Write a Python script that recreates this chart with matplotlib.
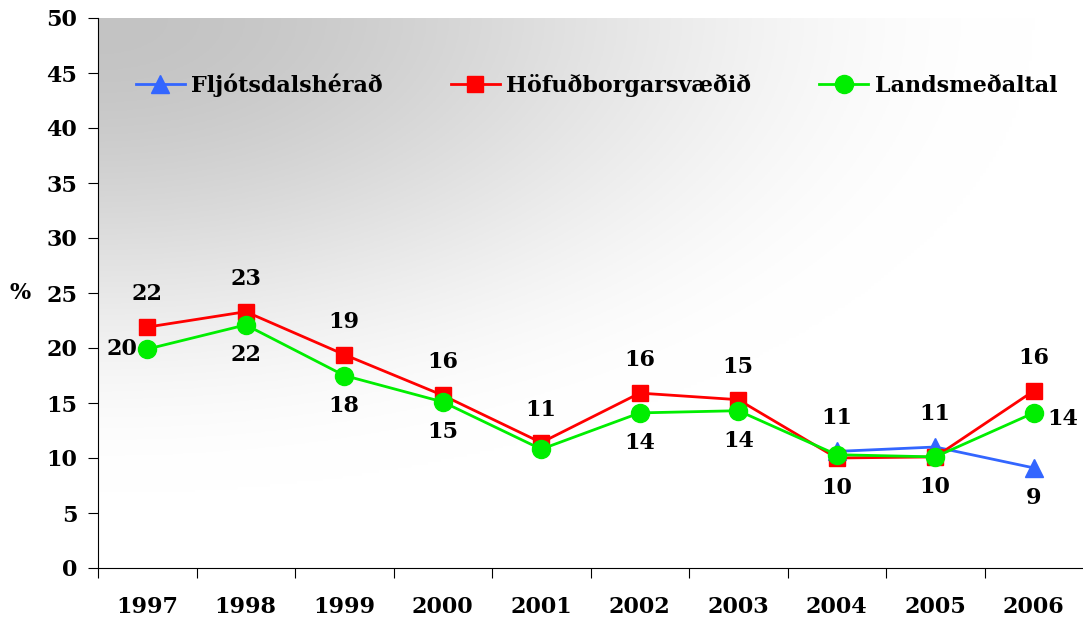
import numpy as np
import matplotlib
matplotlib.use("Agg")
import matplotlib.pyplot as plt

plt.rcParams['font.family'] = ['DejaVu Serif']
plt.rcParams['font.weight'] = 'bold'

# data
years = ['1997', '1998', '1999', '2000', '2001', '2002', '2003', '2004', '2005', '2006']
fljotsdalsherad = [np.nan, np.nan, np.nan, np.nan, np.nan, np.nan, np.nan, 10.6, 11.0, 9.1]
hofudborgarsvaedid = [21.9, 23.3, 19.4, 15.7, 11.4, 15.9, 15.3, 10.0, 10.1, 16.1]
landsmedaltal = [19.9, 22.1, 17.5, 15.1, 10.8, 14.1, 14.3, 10.3, 10.1, 14.1]

# where each data label goes (None = no label)
pos_blue = [None] * 7 + ['above', 'above', 'below']
pos_red = ['above'] * 7 + ['below', None, 'above']
pos_green = ['left', 'below', 'below', 'below', None, 'below', 'below', None, 'below', 'right']

fig = plt.figure(figsize=(10.83, 6.22), dpi=100)
ax = fig.add_axes([98 / 1083, 1 - 568 / 622, 1 - 98 / 1083, 550 / 622])

# gris en la esquina superior izquierda que se aclara hacia blanco
gx, gy = np.meshgrid(np.linspace(0, 1, 300), np.linspace(0, 1, 200))
t = np.clip(np.sqrt(gx ** 2 + (gy * 1.1) ** 2) / 0.95, 0, 1)
frac = 3 * t ** 2 - 2 * t ** 3
shade = 0.765 + 0.235 * frac
img = np.dstack([shade, shade, shade])
ax.imshow(img, extent=[0, 1, 0, 1], transform=ax.transAxes, aspect='auto', zorder=0)

x = np.arange(len(years))
ax.plot(x, fljotsdalsherad, color='#3366ff', lw=2, marker='^', ms=13, label='Fljótsdalshérað', zorder=3)
ax.plot(x, hofudborgarsvaedid, color='#ff0000', lw=2, marker='s', ms=12, label='Höfuðborgarsvæðið', zorder=4)
ax.plot(x, landsmedaltal, color='#00ee00', lw=2, marker='o', ms=13, label='Landsmeðaltal', zorder=5)

offsets = {'above': (0, 33, 'center'), 'below': (0, -30, 'center'),
           'left': (-10, 0, 'right'), 'right': (14, -6, 'left')}
for vals, posl in [(fljotsdalsherad, pos_blue), (hofudborgarsvaedid, pos_red), (landsmedaltal, pos_green)]:
    for i, (v, p) in enumerate(zip(vals, posl)):
        if p is None or np.isnan(v):
            continue
        dx, dy, ha = offsets[p]
        ax.annotate(f'{v:.0f}', (x[i], v), xytext=(dx, dy), textcoords='offset pixels',
                    ha=ha, va='center', fontsize=16, zorder=6)

ax.set_xlim(-0.5, 9.5)
ax.set_ylim(0, 50)
ax.set_yticks(np.arange(0, 51, 5))
ax.set_xticks(np.arange(-0.5, 9.5, 1))
ax.set_xticklabels([])
ax.set_xticks(x, minor=True)
ax.set_xticklabels(years, minor=True)
ax.tick_params(axis='x', which='major', length=7, direction='out')
ax.tick_params(axis='x', which='minor', length=0, pad=20, labelsize=16)
ax.tick_params(axis='y', length=7, direction='out', labelsize=16, pad=8)
for s in ['top', 'right']:
    ax.spines[s].set_visible(False)

fig.text(20 / 1083, 1 - 293 / 622, '%', fontsize=16, ha='center', va='center')

ax.legend(loc='center', bbox_to_anchor=(0.506, 1 - 67 / 550), ncol=3, frameon=False,
          fontsize=16, columnspacing=3.05, handlelength=2.2, handletextpad=0.3)

fig.savefig('out.png', dpi=100)
